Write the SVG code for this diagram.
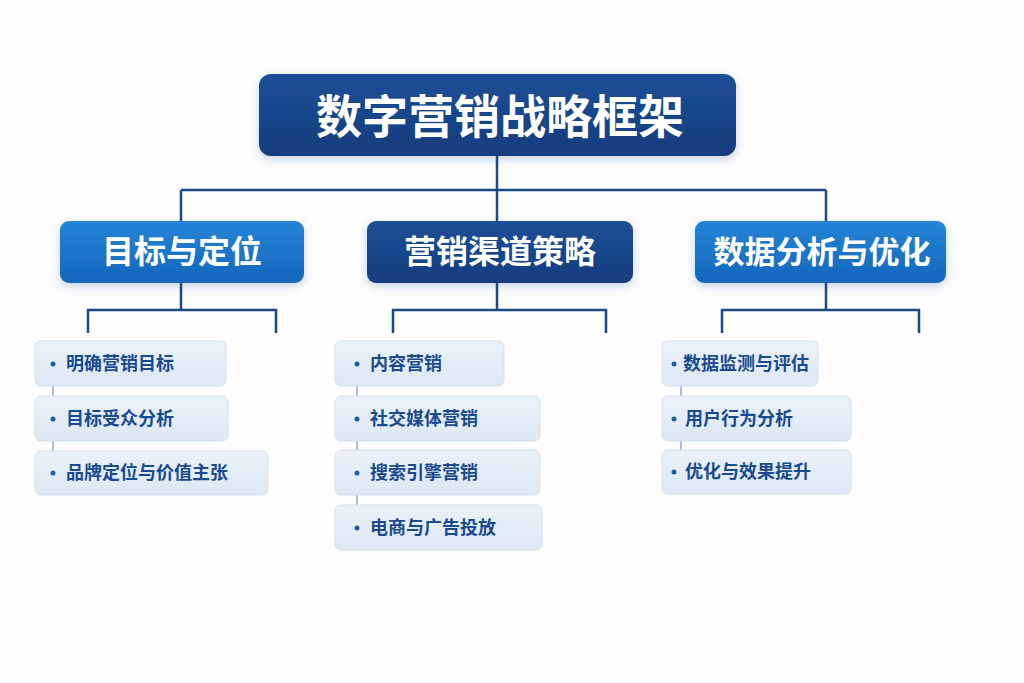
<svg xmlns="http://www.w3.org/2000/svg" width="1024" height="683" viewBox="0 0 1024 683">
<defs>
<linearGradient id="gd" x1="0" y1="0" x2="0" y2="1"><stop offset="0" stop-color="#1d4f96"/><stop offset="1" stop-color="#123d7e"/></linearGradient>
<linearGradient id="gb" x1="0" y1="0" x2="0" y2="1"><stop offset="0" stop-color="#2585d6"/><stop offset="1" stop-color="#1466bb"/></linearGradient>
<linearGradient id="gl" x1="0" y1="0" x2="0" y2="1"><stop offset="0" stop-color="#eaf1f9"/><stop offset="1" stop-color="#dde8f4"/></linearGradient>
<filter id="sh" x="-10%" y="-20%" width="120%" height="150%"><feDropShadow dx="0" dy="3" stdDeviation="4" flood-color="#1a4f8f" flood-opacity="0.25"/></filter>
</defs>
<style>
text{font-family:"Noto Sans CJK SC","Noto Sans",sans-serif;font-weight:700}
.t{fill:#fff;text-anchor:middle}
.l{fill:#1a4a90;font-size:18px}
.leaf{fill:url(#gl);stroke:#d3e0ee;stroke-width:1}
.c{fill:none;stroke:#1c4a86;stroke-width:2.5}
.cs{fill:none;stroke:#a9bfd8;stroke-width:2}
.d{fill:#1c5da8}
</style>
<rect width="1024" height="683" fill="#fdfdfe"/>
<g id="connectors">
<path class="c" d="M497 156V190M181 190H826M181 190V221M497 190V221M826 190V221"/>
<path class="c" d="M181 283V310M88 333V310H276V333M497 283V310M393 333V310H606V333M826 283V310M722 333V310H919V333"/>
<path class="cs" d="M53 386V396M53 441V451M357 386V396M357 441V450M357 495V505M681 386V396M681 441V450"/>
</g>
<g id="root"><rect x="259" y="74" width="477" height="82" rx="12" fill="url(#gd)" filter="url(#sh)"/><text class="t" x="500" y="133" font-size="46">数字营销战略框架</text></g>
<g id="n1"><rect x="60" y="221" width="244" height="62" rx="9" fill="url(#gb)" filter="url(#sh)"/><text class="t" x="182" y="263" font-size="32">目标与定位</text></g>
<g id="n2"><rect x="367" y="221" width="266" height="62" rx="9" fill="url(#gd)" filter="url(#sh)"/><text class="t" x="500" y="263" font-size="32">营销渠道策略</text></g>
<g id="n3"><rect x="695" y="221" width="251" height="62" rx="9" fill="url(#gb)" filter="url(#sh)"/><text class="t" x="822" y="263" font-size="31">数据分析与优化</text></g>
<g id="a1"><rect class="leaf" x="35" y="341" width="191" height="45" rx="6"/><circle class="d" cx="53" cy="364" r="2.5"/><text class="l" x="66" y="370">明确营销目标</text></g>
<g id="a2"><rect class="leaf" x="35" y="396" width="193" height="45" rx="6"/><circle class="d" cx="53" cy="419" r="2.5"/><text class="l" x="66" y="425">目标受众分析</text></g>
<g id="a3"><rect class="leaf" x="35" y="451" width="233" height="44" rx="6"/><circle class="d" cx="53" cy="473" r="2.5"/><text class="l" x="66" y="479">品牌定位与价值主张</text></g>
<g id="b1"><rect class="leaf" x="335" y="341" width="169" height="45" rx="6"/><circle class="d" cx="357" cy="364" r="2.5"/><text class="l" x="370" y="370">内容营销</text></g>
<g id="b2"><rect class="leaf" x="335" y="396" width="205" height="45" rx="6"/><circle class="d" cx="357" cy="419" r="2.5"/><text class="l" x="370" y="425">社交媒体营销</text></g>
<g id="b3"><rect class="leaf" x="335" y="450" width="205" height="45" rx="6"/><circle class="d" cx="357" cy="473" r="2.5"/><text class="l" x="370" y="479">搜索引擎营销</text></g>
<g id="b4"><rect class="leaf" x="335" y="505" width="207" height="45" rx="6"/><circle class="d" cx="357" cy="528" r="2.5"/><text class="l" x="370" y="534">电商与广告投放</text></g>
<g id="c1"><rect class="leaf" x="662" y="341" width="156" height="45" rx="6"/><circle class="d" cx="674" cy="364" r="2.5"/><text class="l" x="683" y="370" font-size="17">数据监测与评估</text></g>
<g id="c2"><rect class="leaf" x="662" y="396" width="189" height="45" rx="6"/><circle class="d" cx="674" cy="419" r="2.5"/><text class="l" x="685" y="425">用户行为分析</text></g>
<g id="c3"><rect class="leaf" x="662" y="450" width="189" height="44" rx="6"/><circle class="d" cx="674" cy="472" r="2.5"/><text class="l" x="685" y="478">优化与效果提升</text></g>
</svg>
